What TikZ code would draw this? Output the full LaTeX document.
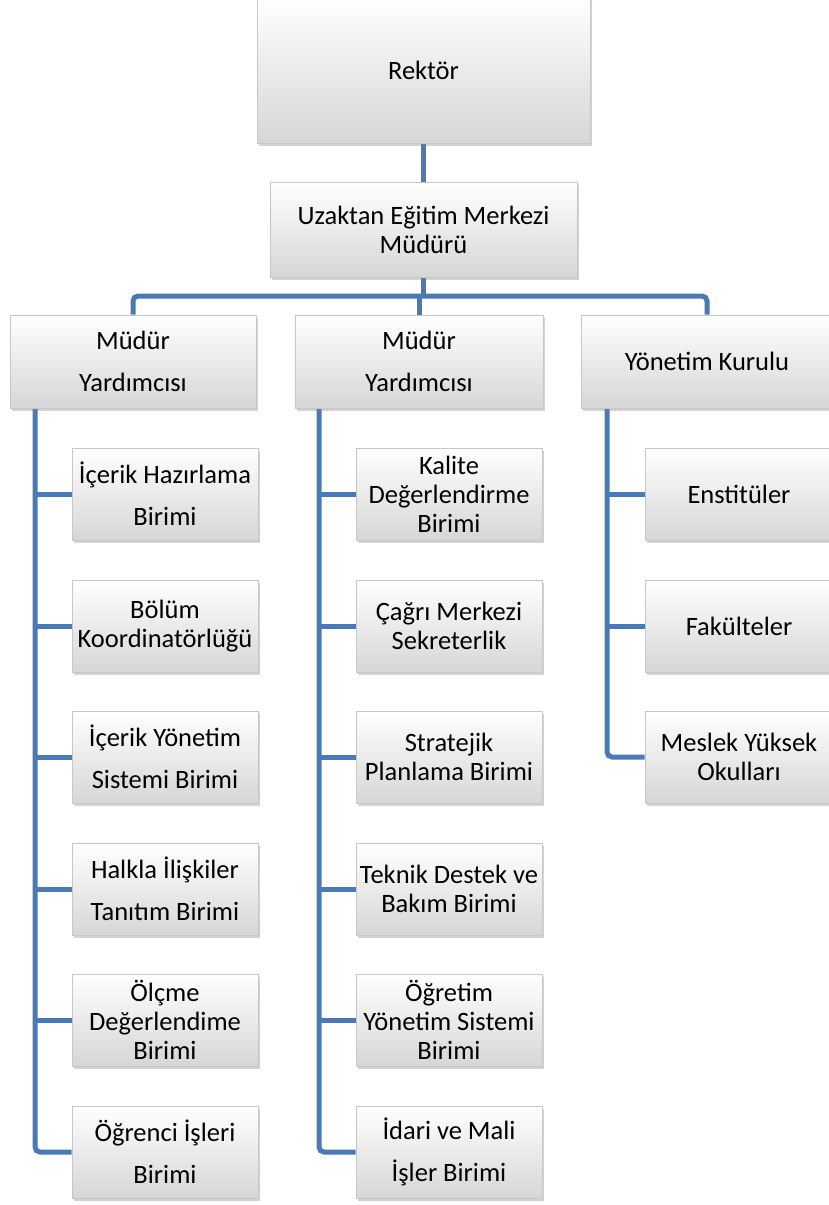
\documentclass[tikz,border=0pt]{standalone}
\usepackage{fontspec}
\setmainfont{Carlito}
\usepackage{tikz}
\usetikzlibrary{shadows,backgrounds}

\definecolor{linkblue}{HTML}{4A7AB5}
\newcommand{\wl}{\\[13pt]}

\tikzset{
	unitbox/.style={rectangle,draw=black!22,line width=0.6pt,
		top color=white,bottom color=black!16,
		drop shadow={shadow xshift=1.5pt,shadow yshift=-3pt,opacity=0.35},
		align=center,inner sep=0pt,font=\fontsize{26.5}{29}\selectfont},
	link/.style={draw=linkblue,line width=5pt},
}

\begin{document}
\begin{tikzpicture}[x=1pt,y=-1pt]
	\useasboundingbox (0,0) rectangle (829,1205);

	% top of the chart
	\node[unitbox,minimum width=333pt,minimum height=146pt] (rektor) at (423.5,70) {Rektör};
	\node[unitbox,minimum width=307pt,minimum height=95pt] (merkez) at (423.5,229.5) {Uzaktan Eğitim Merkezi\\Müdürü};

	\node[unitbox,minimum width=246pt,minimum height=93pt] (myl) at (133,361.5) {Müdür\wl Yardımcısı};
	\node[unitbox,minimum width=248pt,minimum height=93pt] (mym) at (419,361.5) {Müdür\wl Yardımcısı};
	\node[unitbox,minimum width=252pt,minimum height=93pt] (yk) at (707,361.5) {Yönetim Kurulu};

	% left column
	\node[unitbox,minimum width=186pt,minimum height=92pt] (l1) at (165,494) {İçerik Hazırlama\wl Birimi};
	\node[unitbox,minimum width=186pt,minimum height=92pt] (l2) at (165,626) {Bölüm\\Koordinatörlüğü};
	\node[unitbox,minimum width=186pt,minimum height=92pt] (l3) at (165,757) {İçerik Yönetim\wl Sistemi Birimi};
	\node[unitbox,minimum width=186pt,minimum height=92pt] (l4) at (165,889) {Halkla İlişkiler\wl Tanıtım Birimi};
	\node[unitbox,minimum width=186pt,minimum height=92pt] (l5) at (165,1020) {Ölçme\\Değerlendime\\Birimi};
	\node[unitbox,minimum width=186pt,minimum height=92pt] (l6) at (165,1152) {Öğrenci İşleri\wl Birimi};

	% middle column
	\node[unitbox,minimum width=186pt,minimum height=92pt] (m1) at (449,494) {Kalite\\Değerlendirme\\Birimi};
	\node[unitbox,minimum width=186pt,minimum height=92pt] (m2) at (449,626) {Çağrı Merkezi\\Sekreterlik};
	\node[unitbox,minimum width=186pt,minimum height=92pt] (m3) at (449,757) {Stratejik\\Planlama Birimi};
	\node[unitbox,minimum width=186pt,minimum height=92pt] (m4) at (449,889) {Teknik Destek ve\\Bakım Birimi};
	\node[unitbox,minimum width=186pt,minimum height=92pt] (m5) at (449,1020) {Öğretim\\Yönetim Sistemi\\Birimi};
	\node[unitbox,minimum width=186pt,minimum height=92pt] (m6) at (449,1152) {İdari ve Mali\wl İşler Birimi};

	% right column
	\node[unitbox,minimum width=188pt,minimum height=92pt] (r1) at (739,494) {Enstitüler};
	\node[unitbox,minimum width=188pt,minimum height=92pt] (r2) at (739,626) {Fakülteler};
	\node[unitbox,minimum width=188pt,minimum height=92pt] (r3) at (739,757) {Meslek Yüksek\\Okulları};

	\coordinate (bus) at (0,296);
	\coordinate (lrail) at (35,0);
	\coordinate (mrail) at (319,0);
	\coordinate (rrail) at (607,0);

	\begin{scope}[on background layer]
		\draw[link] (rektor.south) -- (merkez.north);
		\draw[link] (merkez.south) -- (merkez.south |- bus);
		\draw[link,rounded corners=5pt] (myl.north) -- (myl.north |- bus) -- (yk.north |- bus) -- (yk.north);
		\draw[link] (mym.north) -- (mym.north |- bus);

		\draw[link,rounded corners=5pt] (lrail |- myl.south) |- (l6.west);
		\draw[link] (l1.west) -- (l1.west -| lrail);
		\draw[link] (l2.west) -- (l2.west -| lrail);
		\draw[link] (l3.west) -- (l3.west -| lrail);
		\draw[link] (l4.west) -- (l4.west -| lrail);
		\draw[link] (l5.west) -- (l5.west -| lrail);

		\draw[link,rounded corners=5pt] (mrail |- mym.south) |- (m6.west);
		\draw[link] (m1.west) -- (m1.west -| mrail);
		\draw[link] (m2.west) -- (m2.west -| mrail);
		\draw[link] (m3.west) -- (m3.west -| mrail);
		\draw[link] (m4.west) -- (m4.west -| mrail);
		\draw[link] (m5.west) -- (m5.west -| mrail);

		\draw[link,rounded corners=5pt] (rrail |- yk.south) |- (r3.west);
		\draw[link] (r1.west) -- (r1.west -| rrail);
		\draw[link] (r2.west) -- (r2.west -| rrail);
	\end{scope}
\end{tikzpicture}
\end{document}
